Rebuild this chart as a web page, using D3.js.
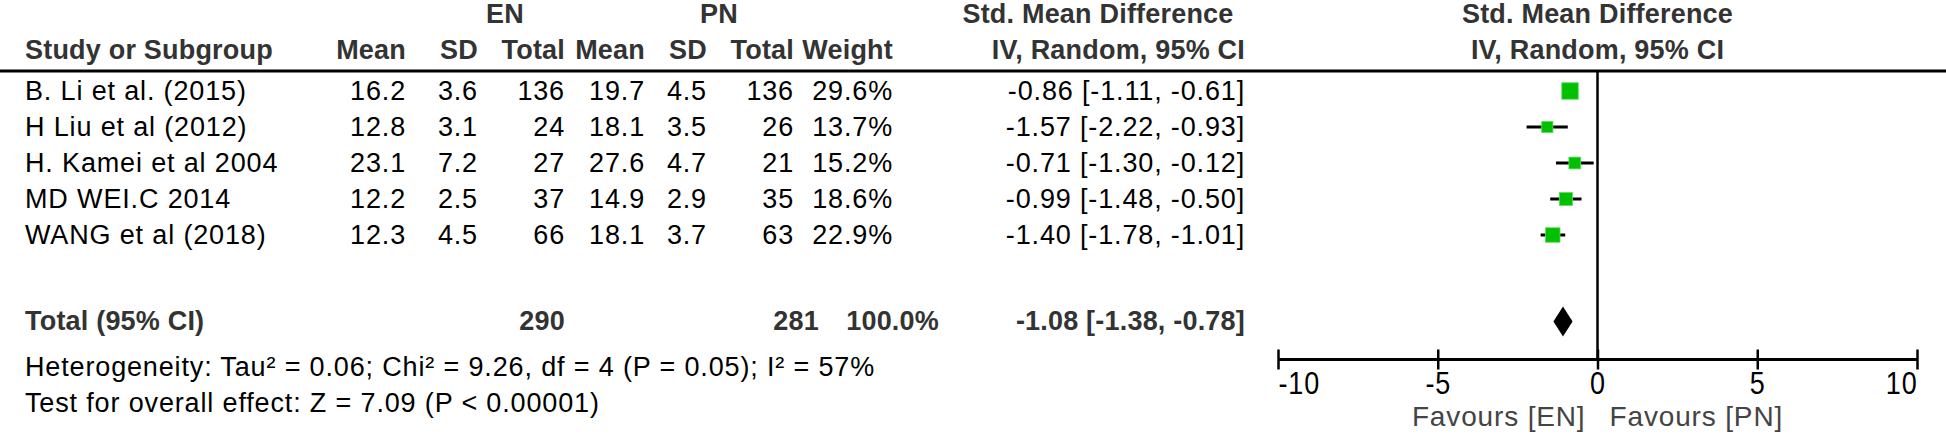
<!DOCTYPE html>
<html><head><meta charset="utf-8">
<script src="https://cdn.jsdelivr.net/npm/d3@7"></script>
<style>
html,body{margin:0;padding:0;background:#fff;}
svg{display:block;}
text{font-family:"Liberation Sans",Arial,sans-serif;}
</style></head>
<body><svg id="c" width="1946" height="435"></svg>
<script>
// ---- data ----
const studies = ["B. Li et al. (2015)","H Liu et al (2012)","H. Kamei et al 2004","MD WEI.C 2014","WANG et al (2018)"];
const enMean = [16.2,12.8,23.1,12.2,12.3];
const enSD = [3.6,3.1,7.2,2.5,4.5];
const enTotal = [136,24,27,37,66];
const pnMean = [19.7,18.1,27.6,14.9,18.1];
const pnSD = [4.5,3.5,4.7,2.9,3.7];
const pnTotal = [136,26,21,35,63];
const weights = [29.6,13.7,15.2,18.6,22.9];
const smd = [-0.86,-1.57,-0.71,-0.99,-1.40];
const ciLow = [-1.11,-2.22,-1.30,-1.48,-1.78];
const ciHigh = [-0.61,-0.93,-0.12,-0.50,-1.01];
const totalEN = 290, totalPN = 281, totalWeight = 100.0;
const totalSMD = -1.08, totalLow = -1.38, totalHigh = -0.78;
const axisTicks = [-10,-5,0,5,10];
const heterogeneity = "Heterogeneity: Tau² = 0.06; Chi² = 9.26, df = 4 (P = 0.05); I² = 57%";
const overall = "Test for overall effect: Z = 7.09 (P < 0.00001)";
const favLeft = "Favours [EN]", favRight = "Favours [PN]";

// ---- layout ----
const W = 1946, H = 435;
const FS = 27, LS = 0.85, FSB = 27, LSB = 0.2;
const svg = d3.select("#c");
const x = d3.scaleLinear().domain([-10,10]).range([1278,1917]);
const y = d3.scaleLinear().domain([0,1]).range([91,127]);
const totalRow = 6.4;
const axisY = 359.5, headerLine = 71;
const colR = {enMean:406, enSD:478, enTotal:565, pnMean:645, pnSD:707, pnTotal:794, weight:893, ci:1245};
const hdrColor = "#333";

function txt(xp, yp, s, opts={}) {
  return svg.append("text").attr("x", xp).attr("y", yp)
    .attr("dominant-baseline","central")
    .attr("text-anchor", opts.anchor || "start")
    .attr("font-size", opts.fs || (opts.bold ? FSB : FS))
    .attr("letter-spacing", opts.bold ? LSB : LS)
    .attr("font-weight", opts.bold ? "bold" : "normal")
    .attr("fill", opts.fill || "#000")
    .text(s);
}
const f1 = d3.format(".1f"), f2 = d3.format(".2f");
const m = v => (v<0?"-":"") + f2(Math.abs(v));
const ciStr = (e,l,h) => `${m(e)} [${m(l)}, ${m(h)}]`;

// headers
const h1 = 14, h2 = 50;
txt(505, h1, "EN", {anchor:"middle", bold:true, fill:hdrColor});
txt(719, h1, "PN", {anchor:"middle", bold:true, fill:hdrColor});
txt(1098, h1, "Std. Mean Difference", {anchor:"middle", bold:true, fill:hdrColor});
txt(x(0), h1, "Std. Mean Difference", {anchor:"middle", bold:true, fill:hdrColor});
txt(25, h2, "Study or Subgroup", {bold:true, fill:hdrColor});
[["enMean","Mean"],["enSD","SD"],["enTotal","Total"],["pnMean","Mean"],["pnSD","SD"],["pnTotal","Total"],["weight","Weight"],["ci","IV, Random, 95% CI"]]
  .forEach(([k,s]) => txt(colR[k], h2, s, {anchor:"end", bold:true, fill:hdrColor}));
txt(x(0), h2, "IV, Random, 95% CI", {anchor:"middle", bold:true, fill:hdrColor});

svg.append("line").attr("x1",0).attr("x2",W).attr("y1",headerLine).attr("y2",headerLine)
  .attr("stroke","#000").attr("stroke-width",3);

// zero line
svg.append("line").attr("x1",x(0)).attr("x2",x(0)).attr("y1",headerLine).attr("y2",axisY)
  .attr("stroke","#000").attr("stroke-width",2.5);

// rows
studies.forEach((s,i) => {
  const yy = y(i);
  txt(25, yy, s);
  txt(colR.enMean, yy, f1(enMean[i]), {anchor:"end"});
  txt(colR.enSD, yy, f1(enSD[i]), {anchor:"end"});
  txt(colR.enTotal, yy, enTotal[i], {anchor:"end"});
  txt(colR.pnMean, yy, f1(pnMean[i]), {anchor:"end"});
  txt(colR.pnSD, yy, f1(pnSD[i]), {anchor:"end"});
  txt(colR.pnTotal, yy, pnTotal[i], {anchor:"end"});
  txt(colR.weight, yy, f1(weights[i])+"%", {anchor:"end"});
  txt(colR.ci, yy, ciStr(smd[i],ciLow[i],ciHigh[i]), {anchor:"end"});
});

// CI lines and boxes
const g = svg.append("g");
g.selectAll("line.ci").data(studies).join("line").attr("class","ci")
  .attr("x1",(d,i)=>x(ciLow[i])).attr("x2",(d,i)=>x(ciHigh[i]))
  .attr("y1",(d,i)=>y(i)).attr("y2",(d,i)=>y(i))
  .attr("stroke","#000").attr("stroke-width",3);
const side = w => 16.5*Math.sqrt(w/29.6);
g.selectAll("rect.box").data(studies).join("rect").attr("class","box")
  .attr("x",(d,i)=>x(smd[i])-side(weights[i])/2)
  .attr("y",(d,i)=>y(i)-side(weights[i])/2)
  .attr("width",(d,i)=>side(weights[i])).attr("height",(d,i)=>side(weights[i]))
  .attr("fill","#00c000").attr("stroke","#5ee05e").attr("stroke-width",0.8);

// total row
const ty = y(totalRow);
txt(25, ty, "Total (95% CI)", {bold:true, fill:hdrColor});
txt(colR.enTotal, ty, totalEN, {anchor:"end", bold:true, fill:hdrColor});
txt(819, ty, totalPN, {anchor:"end", bold:true, fill:hdrColor});
txt(939, ty, f1(totalWeight)+"%", {anchor:"end", bold:true, fill:hdrColor});
txt(colR.ci, ty, ciStr(totalSMD,totalLow,totalHigh), {anchor:"end", bold:true, fill:hdrColor});
const dh = 15;
svg.append("path")
  .attr("d", `M${x(totalLow)},${ty} L${x(totalSMD)},${ty-dh} L${x(totalHigh)},${ty} L${x(totalSMD)},${ty+dh} Z`)
  .attr("fill","#000");

// footer text
txt(25, 367, heterogeneity);
txt(25, 403, overall);

// axis
const axis = d3.axisBottom(x).tickValues(axisTicks).tickSize(0).tickFormat(d3.format("d"));
const ax = svg.append("g").attr("transform",`translate(0,${axisY})`).call(axis);
ax.select(".domain").remove();
ax.selectAll(".tick text").attr("font-size",FS).attr("font-family","Liberation Sans, Arial, sans-serif")
  .attr("letter-spacing",LS).attr("fill","#000").attr("dy",0).attr("y",0)
  .attr("dominant-baseline","central")
  .attr("text-anchor",(d,i,n)=> i===0 ? "start" : (i===n.length-1 ? "end" : "middle"))
  .attr("transform","translate(0,23) scale(1,1.18)")
  .text(d => d<0 ? "-"+Math.abs(d) : d);
ax.append("line").attr("x1",x(-10)).attr("x2",x(10)).attr("y1",0).attr("y2",0)
  .attr("stroke","#000").attr("stroke-width",3);
ax.selectAll(".tick").append("line").attr("y1",-10).attr("y2",10).attr("stroke","#000").attr("stroke-width",2.5);

txt(x(0)-12, 416, favLeft, {anchor:"end", fill:"#444", fs:28});
txt(x(0)+12, 416, favRight, {anchor:"start", fill:"#444", fs:28});
</script></body></html>
